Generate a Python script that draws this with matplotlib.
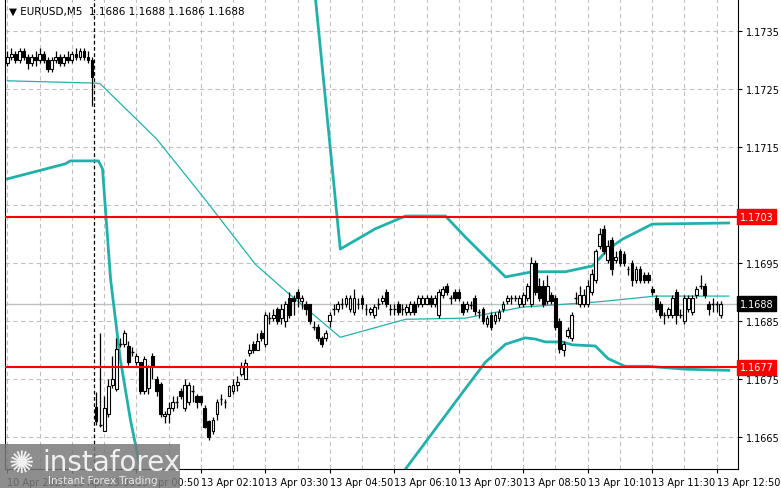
import matplotlib
matplotlib.use("Agg")
import matplotlib.pyplot as plt
from matplotlib.patches import Rectangle
import numpy as np

BASE = 1.16  # prices below are in pips above 1.1600
opens = [129.5,130.5,131,130,131.5,130.5,129.5,130.5,130,131,130,128.5,130,130.5,129.5,130.5,130,131,130.5,131.5,130.5,130,
 70.2,67,66,69,74,73.3,81,81,80.7,79.7,78,77.9,73,73.5,79,75,74.2,68.7,69,70,71,73,70,71,73,72,72,70,67.8,66,69,71.5,71,72,73,74,75.8,75,79.5,81,80,83,81,85.5,85.5,87,85.5,85,
 89,89,90,88.5,88,88,84,84,82,82,85,87,87,88,88,87,86.5,88,89,87,86.5,86,88,88.5,90,87,87,88,87,86.5,86.5,88,88,88,88,89,88,86,89.5,91,89,90,90,88,87,
 87.8,89,86.5,87,84.5,86,85,85.5,87,88.5,89,89,88,88,88.9,88,95,91,91,88.5,89.5,89,85,80,82.5,82,89,88,88,88,90,92,98,100.9,95.5,99,95.5,97,96.5,94,95,92,94,93,93,90.5,89,88,86,86,86,90,86,85,87,86.5,89.5,91,91,88,88,88,86]
closes = [130.5,131,130,131.5,130.5,129.5,130.5,130,131,130,128.5,130,130.5,129.5,130.5,130,131,130.5,131.5,130.5,130,127,
 67.8,67,70,73.8,75,80.2,81,83,77.9,79.7,79,73,78.5,77,77,73,69,69,70,71,71,72,74,74,73,71,71,66.7,65,68,71,71.5,71,73.8,74,74.5,77,77.8,80,80,81.6,82,86,85.5,86,85,87,88,
 86,88.5,89,89,87,85,84,82,81,83,86,87,88,88,89,89,89,88,88,87,87,87.5,88,89,88,87,87,86.5,87,87.5,88,86.5,89,89,89,88,89,90,90.5,90,89,89,89,86.5,88,
 87.8,86.7,86.5,85,85.5,84,86,86.5,88,89,89,89,89,89.5,91,95,90,89,88,91,88.5,84,80.2,81,83.5,86,89,89.5,89.5,91,93.1,97.1,100,97,98,94,96,95,95,94,92,94,92,92,92,90,87,86,86,87,89,86,86,89,89,89,90.5,91,89.5,87,88,88,88]
highs = [131.5,132,131.5,132,132,131,131,131.5,132,131.5,130.5,130.5,131.5,131,131,131.5,131.5,132,132,132,131.5,130.5,
 72.8,83,72,75,79,82,82,83.5,81.5,80.5,79.5,78,79,77.5,79.5,75.5,74.5,69.5,71,72,72,73.5,75,74.5,74,72.5,72,70.5,68,68.5,71.5,72.5,71.5,74,75,75.5,78,78.5,81,81.5,83,83.5,86.5,86.5,87,87.5,88,88.5,
 90,89.5,90.5,89.5,88.5,88,85,84.5,82.5,83.5,86.5,88,88.5,89,89.5,89.5,90.5,89,89.5,88,87.5,88,89,89.5,90.5,88,88,88.5,88,88,88.5,88.5,89.5,89.5,89.5,89.5,89.5,90.5,91,91.5,89.5,90.5,90.5,88.5,88.5,
 88.5,89.5,87,87.5,86,86.5,86.5,87,88.5,89.5,89.5,89.5,89.5,90,91.5,96,95.5,92.5,92,93,90,89.5,85.5,81.5,84,86.5,90,91,90.5,92,94,97.5,101,101.5,99,99.5,97,97.5,97,94.5,95.5,94.5,94.5,93.5,93.5,91,89.5,88.5,86.5,87.5,89.5,90.5,87,89.5,89.5,89.5,91,93,91.5,88.5,89,88.5,88.5]
lows = [129,130,129.5,129.5,130,128.5,129,129,129.5,129.5,128,128,129.5,129,129,129.5,129.5,130,130,130,129.5,122,
 67,66.7,66,68.5,73.5,73,80.5,80.5,77.5,79,77.5,72.5,72.5,72.5,75,72,68.5,67.5,67.5,69.5,70,71.5,69.5,70.5,71,70,70.5,66.5,64.5,65.5,68,70.5,70,72,72.5,73,75.5,75,79,79.5,80,81.5,80.5,84.5,85,84.5,84.5,84,
 85.5,86,87.5,87,86,84.5,83.5,81.5,80.5,81.5,84,86,86.5,87,87.5,86.5,86,87,87,86,86,85.5,87,88,87.5,86,86,86,86,86,86,86,87.5,87.5,88,87.5,87.5,85.5,89,89.5,88,88.5,88.5,86,86.5,
 87,86,85.5,84.5,84,83.5,84.5,85,86.5,88,88,88.5,87.5,87.5,88.5,87.5,89.5,88.5,87.5,88,88,83.5,79.5,79,82,81.5,88,87.5,87.5,87.5,89.5,91.5,97.5,96.5,95,93,95,94.5,94.5,93,91,91.5,91.5,91.5,91.5,89.5,86.5,85.5,84.5,85.5,85.5,84.5,85.5,84.5,86.5,86,89,90.5,89,86,86.5,86.5,85.5]

# Indicator lines: (bar index, pips)
mid_idx = [0,22,23,37,49,61.5,69,82.6,98.8,113.6,127.8,146.6,160.8,179]
mid_val = [126.4,126.0,125.9,116.4,106.0,94.8,90.2,82.2,85.3,85.5,87.4,88.3,89.3,89.3]
up_idx = [0,22,23,70,76.4,82.6,91.3,98.8,108.7,113.6,123.6,130.3,138.5,145.2,149.1,152.6,160,179]
up_val = [144,143,160,160,140.9,97.4,100.9,103.1,103.1,99.5,92.6,93.5,93.5,94.5,97.4,99.1,101.7,101.9]
lo_idx = [0,14.4,15.6,22.6,23.6,25.6,28,30.5,33,36.7,50,90,98.8,106.2,113.6,118.6,123.6,128.5,131,133.5,137.7,140.2,145.9,149.1,153.3,159,168.2,179]
lo_val = [109.5,112.1,112.6,112.6,111.2,92.2,78.5,68.1,59.5,50,40,40,59.5,66.4,73.3,77.9,81.0,82.1,81.9,81.4,81.4,80.9,80.7,78.5,77.2,77.2,76.7,76.5]

levels = [1.1703, 1.1677]
last_price = 1.1688
time_labels = ["10 Apr 2026","10 Apr 23:30","13 Apr 00:50","13 Apr 02:10","13 Apr 03:30","13 Apr 04:50",
               "13 Apr 06:10","13 Apr 07:30","13 Apr 08:50","13 Apr 10:10","13 Apr 11:30","13 Apr 12:50"]
price_ticks = [1.1735,1.1725,1.1715,1.1695,1.1685,1.1675,1.1665]
price_tick_labels = ["1.1735","1.1725","1.1715","1.1695","1.1685","1.1675","1.1665"]

def P(v):
    return BASE + np.asarray(v)/10000.0

W, H = 781, 489
fig = plt.figure(figsize=(W/100, H/100), dpi=100)
ax = fig.add_axes([5/W, 19/H, 733/W, 470/H])
ax.set_facecolor("white")
teal = "#20b2aa"

for gx in range(0, 184, 8):
    ax.axvline(gx, color="#c0c0c0", ls=(0,(4,3)), lw=0.8, zorder=0)
for gy in np.arange(1.1665, 1.1740, 0.001):
    ax.axhline(gy, color="#c0c0c0", ls=(0,(4,3)), lw=0.8, zorder=0)

ax.axhline(last_price, color="#c0c0c0", lw=1, zorder=1)
for lv in levels:
    ax.axhline(lv, color="red", lw=1.5, zorder=5)
ax.axvline(21.6, color="black", ls=(0,(3,2)), lw=0.9, zorder=1)

ax.plot(mid_idx, P(mid_val), color=teal, lw=0.9, zorder=2)
ax.plot(up_idx, P(up_val), color=teal, lw=2, zorder=2)
ax.plot(lo_idx, P(lo_val), color=teal, lw=2, zorder=2)

o, c, h, l = P(opens), P(closes), P(highs), P(lows)
for i in range(len(opens)):
    ax.vlines(i, l[i], h[i], color="black", lw=0.9, zorder=3)
    lo_b, hi_b = min(o[i], c[i]), max(o[i], c[i])
    if hi_b - lo_b < 0.000012:
        ax.hlines(c[i], i-0.35, i+0.35, color="black", lw=1, zorder=4)
    else:
        fc = "white" if c[i] > o[i] else "black"
        ax.add_patch(Rectangle((i-0.35, lo_b), 0.7, hi_b-lo_b, facecolor=fc,
                               edgecolor="black", lw=0.8, zorder=4))

ax.set_xlim(-0.6, 181.3)
ax.set_ylim(1.16595, 1.17405)
ax.spines["top"].set_visible(False)
ax.set_xticks(range(0, 16*len(time_labels), 16))
ax.set_xticklabels(time_labels, ha="left", fontsize=7)
ax.tick_params(axis="x", length=3, pad=3)
ax.yaxis.tick_right()
ax.set_yticks(price_ticks)
ax.set_yticklabels(price_tick_labels, fontsize=7)
ax.tick_params(axis="y", length=3, pad=3)

for lv, col in [(levels[0], "red"), (levels[1], "red"), (last_price, "black")]:
    ax.text(1.002, lv, f"{lv:.4f}", transform=ax.get_yaxis_transform(), fontsize=7,
            color="white", va="center", ha="left",
            bbox=dict(boxstyle="square,pad=0.25", fc=col, ec=col), zorder=10, clip_on=False)

fig.text(9/W, 1-12/H, "▼ EURUSD,M5  1.1686 1.1688 1.1686 1.1688", fontsize=7.5, va="center")

fig.patches.append(Rectangle((0, 0), 180/W, 44/H, transform=fig.transFigure,
                             facecolor="#7a7a7a", alpha=0.85, zorder=20))
fig.text(42/W, 26/H, "instaforex", fontsize=20, color="#f0f0f0", va="center", zorder=21)
fig.text(48/W, 8/H, "Instant Forex Trading", fontsize=7.5, color="#e8e8e8", va="center", zorder=21)
fig.text(8/W, 24/H, "✺", fontsize=22, color="#f0f0f0", va="center", zorder=21)

fig.savefig("out.png", dpi=100)
